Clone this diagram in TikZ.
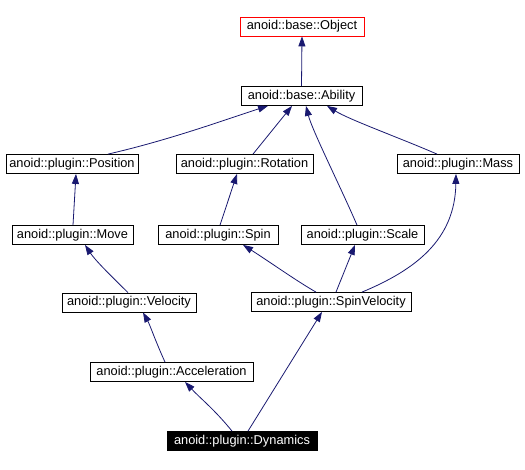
\documentclass[tikz,border=0pt]{standalone}
\usepackage{fontspec}
\setmainfont{Liberation Sans}
\usetikzlibrary{arrows.meta}
\definecolor{edgeblue}{HTML}{191970}
\begin{document}
\begin{tikzpicture}[x=1pt,y=-1pt,
  cls/.style={draw=black,line width=0.8pt,fill=white,minimum height=19pt,inner sep=0pt,
    font=\fontsize{12.8}{14}\selectfont},
  edge/.style={draw=edgeblue,line width=0.8pt,-{Triangle[length=10pt,width=7pt]}}]
\useasboundingbox (0,0) rectangle (525,470);
\node[cls,draw=red,minimum width=124pt] (Object) at (302,26.5) {anoid::base::Object};
\node[cls,minimum width=121pt] (Ability) at (301.5,96) {anoid::base::Ability};
\node[cls,minimum width=132pt] (Position) at (72,164) {anoid::plugin::Position};
\node[cls,minimum width=137pt] (Rotation) at (244.5,164) {anoid::plugin::Rotation};
\node[cls,minimum width=122pt] (Mass) at (458,164) {anoid::plugin::Mass};
\node[cls,minimum width=121pt] (Move) at (72.5,235) {anoid::plugin::Move};
\node[cls,minimum width=120pt] (Spin) at (218,235) {anoid::plugin::Spin};
\node[cls,minimum width=123pt] (Scale) at (362.5,235) {anoid::plugin::Scale};
\node[cls,minimum width=134pt] (Velocity) at (129,302.5) {anoid::plugin::Velocity};
\node[cls,minimum width=160pt] (SpinVelocity) at (331,302) {anoid::plugin::SpinVelocity};
\node[cls,minimum width=163pt] (Acceleration) at (171.5,372) {anoid::plugin::Acceleration};
\node[cls,fill=black,text=white,minimum width=150pt] (Dynamics) at (242,441) {anoid::plugin::Dynamics};

\draw[edge] (Ability.north) -- (Object.south);
\draw[edge] ([xshift=36]Position.north) .. controls (170,140) and (230,118) .. ([xshift=-33.5]Ability.south);
\draw[edge] ([xshift=8.5]Rotation.north) -- ([xshift=-9.5]Ability.south);
\draw[edge] ([xshift=-5.5]Scale.north) .. controls (342,190) and (312,130) .. ([xshift=4.5]Ability.south);
\draw[edge] ([xshift=-21]Mass.north) .. controls (400,138) and (350,120) .. ([xshift=25.5]Ability.south);
\draw[edge] ([xshift=0.5]Move.north) -- ([xshift=4]Position.south);
\draw[edge] ([xshift=2]Spin.north) -- ([xshift=-7.5]Rotation.south);
\draw[edge] ([xshift=-1]Velocity.north) .. controls (110,275) and (95,260) .. ([xshift=12.5]Move.south);
\draw[edge] ([xshift=-15]SpinVelocity.north) .. controls (295,280) and (270,262) .. ([xshift=25]Spin.south);
\draw[edge] ([xshift=5]SpinVelocity.north) -- ([xshift=-7.5]Scale.south);
\draw[edge] ([xshift=31]SpinVelocity.north) .. controls (415,270) and (455,240) .. ([xshift=-2]Mass.south);
\draw[edge] ([xshift=-6.5]Acceleration.north) .. controls (155,340) and (150,325) .. ([xshift=14]Velocity.south);
\draw[edge] ([xshift=-10]Dynamics.north) .. controls (215,410) and (200,398) .. ([xshift=13.5]Acceleration.south);
\draw[edge] ([xshift=6]Dynamics.north) -- ([xshift=-9]SpinVelocity.south);
\end{tikzpicture}
\end{document}
